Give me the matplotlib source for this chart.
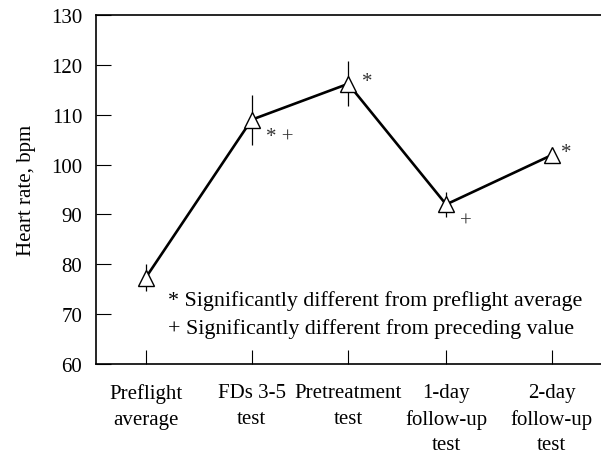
import matplotlib
matplotlib.use("Agg")
import matplotlib.pyplot as plt

plt.rcParams['font.family'] = ['Liberation Serif', 'DejaVu Serif']

categories = ["Preflight\naverage", "FDs 3-5\ntest", "Pretreatment\ntest",
              "1-day\nfollow-up\ntest", "2-day\nfollow-up\ntest"]
positions = [0.0, 1.044, 1.995, 2.96, 4.0]
heart_rate = [77.3, 109.0, 116.2, 92.0, 101.9]
errors = [2.7, 5.0, 4.5, 2.5, 0.6]
marks = ["", "*+", "*", "+", "*"]
legend_lines = ["* Significantly different from preflight average",
                "+ Significantly different from preceding value"]
yticks = [60, 70, 80, 90, 100, 110, 120, 130]

fig = plt.figure(figsize=(6.01, 4.56), dpi=100)
ax = fig.add_axes([96/601, 91/456, 505/601, 349/456])

ax.plot(positions, heart_rate, color='black', lw=1.9, zorder=2)
ax.errorbar(positions, heart_rate, yerr=errors, fmt='none', ecolor='black',
            elinewidth=0.9, capsize=0, zorder=3)
ax.plot(positions, heart_rate, linestyle='none', marker='^', ms=12,
        mfc='white', mec='black', mew=1.0, zorder=4)

# significance marks next to points (offsets in points)
offsets = {"*+": (10, -12), "*": (10, 2), "+": (10, -12)}
for i, (x, y, m) in enumerate(zip(positions, heart_rate, marks)):
    if not m:
        continue
    dx, dy = offsets[m]
    if i == 4:
        dx, dy = 7, 2
    txt = m if m != "*+" else "* +"
    ax.annotate(txt, (x, y), xytext=(dx, dy), textcoords='offset points',
                fontsize=15, ha='left', va='center', color='#333333')

ax.text(0.1426, 0.183, legend_lines[0], transform=ax.transAxes,
        fontsize=15.8, ha='left', va='center')
ax.text(0.1426, 0.103, legend_lines[1], transform=ax.transAxes,
        fontsize=15.8, ha='left', va='center')

ax.set_xlim(-0.49, 4.486)
ax.set_ylim(60, 130)
ax.set_yticks(yticks)
ax.set_xticks(positions)
ax.set_xticklabels(categories, fontsize=15, linespacing=1.45)
ax.tick_params(axis='y', direction='in', length=10.5, width=0.8, labelsize=15, pad=10)
ax.tick_params(axis='x', direction='in', length=10, width=0.8, labelsize=15, pad=14)
ax.spines['right'].set_visible(False)
for s in ['left', 'top', 'bottom']:
    ax.spines[s].set_linewidth(1.2)

ax.set_ylabel("Heart rate, bpm", fontsize=15, labelpad=11)

fig.savefig("out.png", dpi=100)
